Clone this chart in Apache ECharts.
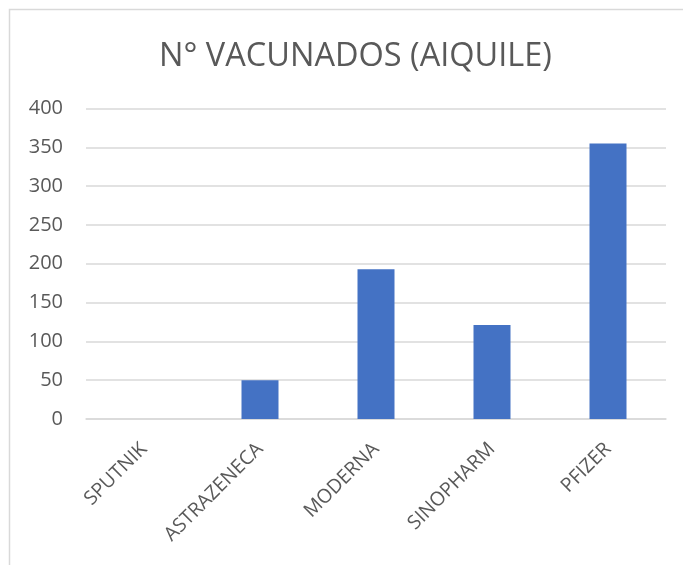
<!DOCTYPE html>
<html>
<head>
<meta charset="utf-8">
<script src="https://cdn.jsdelivr.net/npm/echarts@6/dist/echarts.min.js"></script>
<style>
  html, body { margin: 0; padding: 0; background: #fff; }
  #chart { width: 683px; height: 565px; }
</style>
</head>
<body>
<div id="chart"></div>
<script>
  // datos
  const categories = ['SPUTNIK', 'ASTRAZENECA', 'MODERNA', 'SINOPHARM', 'PFIZER']
  const vacunados = [0, 50, 193, 121, 355]
  const yTicks = [0, 50, 100, 150, 200, 250, 300, 350, 400]

  const chart = echarts.init(document.getElementById('chart'))
  const option = {
    backgroundColor: '#fff',
    animation: false,
    title: {
      text: 'N° VACUNADOS (AIQUILE)',
      left: 154,
      top: 35,
      textStyle: {
        color: '#595959',
        fontFamily: 'Open Sans',
        fontWeight: 'normal',
        fontSize: 32.5
      }
    },
    // borde del gráfico
    graphic: [{
      type: 'rect',
      shape: { x: 9.5, y: 9.5, width: 680, height: 570 },
      style: { fill: 'none', stroke: '#d9d9d9', lineWidth: 1.5 },
      silent: true
    }],
    grid: {
      left: 86,
      right: 17,
      top: 108.5,
      bottom: 146
    },
    xAxis: {
      type: 'category',
      data: categories,
      axisLine: { lineStyle: { color: '#d9d9d9', width: 1.5 } },
      axisTick: { show: false },
      axisLabel: {
        interval: 0,
        rotate: 45,
        color: '#595959',
        fontFamily: 'Open Sans',
        fontSize: 19.5,
        margin: 27
      }
    },
    yAxis: {
      type: 'value',
      min: yTicks[0],
      max: yTicks[yTicks.length - 1],
      interval: 50,
      axisLine: { show: false },
      axisTick: { show: false },
      axisLabel: {
        color: '#595959',
        fontFamily: 'Open Sans',
        fontSize: 20,
        margin: 23
      },
      splitLine: { lineStyle: { color: '#d9d9d9', width: 1.5 } }
    },
    series: [{
      name: 'Vacunados',
      type: 'bar',
      data: vacunados,
      barWidth: 37,
      itemStyle: { color: '#4472c4' }
    }]
  }
  chart.setOption(option)
</script>
</body>
</html>
